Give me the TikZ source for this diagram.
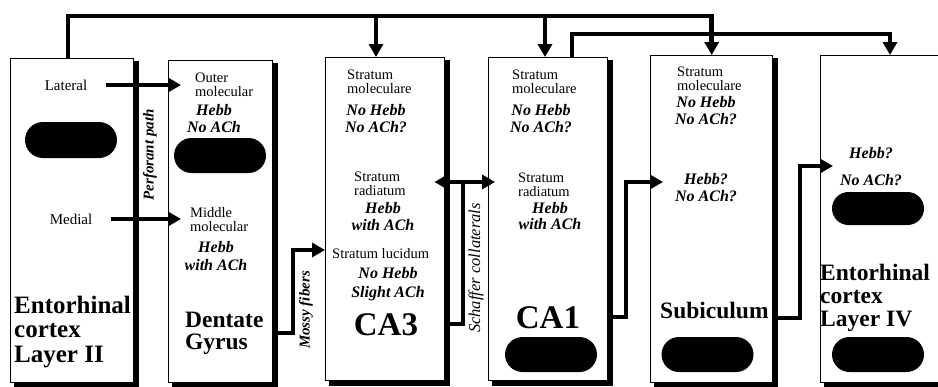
\documentclass[tikz,border=0pt]{standalone}
\usepackage{fontspec}
\setmainfont{Liberation Serif}
\usetikzlibrary{arrows.meta,shapes.misc}

\tikzset{
  panel/.style={draw,line width=1.4pt,anchor=north west,inner sep=0pt},
  blob/.style={rounded rectangle,fill=black,minimum width=92pt,minimum height=35pt,inner sep=0pt},
  fiber/.style={line width=4.5pt},
  into/.style={-{Triangle[length=13pt,width=14pt]}},
  layer/.style={font=\fontsize{14.5}{#1}\selectfont,align=left,anchor=base west,inner sep=0pt},
  layer/.default=14,
  effect/.style={font=\fontsize{16}{#1}\selectfont\bfseries\itshape,align=center,anchor=base,inner sep=0pt},
  effect/.default=17,
  region/.style 2 args={font=\fontsize{#1}{#2}\selectfont\bfseries,align=left,anchor=base west,inner sep=0pt},
  big/.style={font=\fontsize{33}{33}\selectfont\bfseries,anchor=base,inner sep=0pt},
  pathway/.style={font=\fontsize{15}{15}\selectfont\bfseries\itshape,rotate=90,inner sep=0pt}
}

\begin{document}
\begin{tikzpicture}[x=1pt,y=-1pt]
\useasboundingbox (0,0) rectangle (938,386);
\clip (0,0) rectangle (938,386);
\node[panel,minimum width=123pt,minimum height=324pt] (ec2) at (10,58) {};
\node[panel,minimum width=104pt,minimum height=322pt] (dg) at (168,60) {};
\node[panel,minimum width=119pt,minimum height=323pt] (ca3) at (325,57) {};
\node[panel,minimum width=119pt,minimum height=323pt] (ca1) at (488,57) {};
\node[panel,minimum width=122pt,minimum height=327pt] (sub) at (650,55) {};
\node[panel,minimum width=130pt,minimum height=327pt] (ec4) at (820,55) {};
\foreach \b in {ec2,dg,ca3,ca1,sub,ec4}{\draw[line width=4.5pt] ([xshift=2.25pt,yshift=-3pt]\b.north east) -- ([xshift=2.25pt,yshift=-2.25pt]\b.south east) -- ([xshift=4pt,yshift=-2.25pt]\b.south west);}
\foreach \x/\y/\h [count=\i] in {71/140/36,220/155.5/35,551/354.5/35,707.5/354.5/35,878/208.5/33,878/354.5/35}{\node[blob,minimum height=\h pt] (blob\i) at (\x,\y) {};}

\node[font=\fontsize{15}{15}\selectfont,inner sep=0pt] (lat) at (66,85) {Lateral};
\node[font=\fontsize{15}{15}\selectfont,inner sep=0pt] (med) at (71,219) {Medial};
\node[region={25}{24.5}] (ec2name) at (14,362) {Entorhinal\\cortex\\Layer II};

\node[layer] (dgom) at (195,96) {Outer\\molecular};
\node[effect] (dgomfx) at (214,132) {Hebb\\No ACh};
\node[layer] (dgmm) at (190,231) {Middle\\molecular};
\node[effect=18] (dgmmfx) at (216,270) {Hebb\\with ACh};
\node[region={23.5}{22}] (dgname) at (185,349) {Dentate\\Gyrus};

\node[layer] (ca3sm) at (347,93) {Stratum\\moleculare};
\node[effect=16.5] (ca3smfx) at (376,132) {No Hebb\\No ACh?};
\node[layer] (ca3sr) at (354,195) {Stratum\\radiatum};
\node[effect] (ca3srfx) at (383,230) {Hebb\\with ACh};
\node[layer] (ca3sl) at (332,258) {Stratum lucidum};
\node[effect=19] (ca3slfx) at (388,297) {No Hebb\\Slight ACh};
\node[big] (ca3name) at (386,335) {CA3};

\node[layer] (ca1sm) at (512,93) {Stratum\\moleculare};
\node[effect=16.5] (ca1smfx) at (541,132) {No Hebb\\No ACh?};
\node[layer] (ca1sr) at (518,196) {Stratum\\radiatum};
\node[effect=16] (ca1srfx) at (550,229) {Hebb\\with ACh};
\node[big] (ca1name) at (548,328) {CA1};

\node[layer] (subsm) at (677,90) {Stratum\\moleculare};
\node[effect] (subsmfx) at (706,124) {No Hebb\\No ACh?};
\node[effect=16.5] (subfx) at (706,201) {Hebb?\\No ACh?};
\node[region={23.5}{20}] (subname) at (660,318) {Subiculum};

\node[effect=27] (ec4fx) at (871,185) {Hebb?\\No ACh?};
\node[region={23.5}{23}] (ec4name) at (820,326) {Entorhinal\\cortex\\Layer IV};

\node[pathway] (pp) at (150,155) {Perforant path};
\node[pathway] (mf) at (306,310) {Mossy fibers};
\node[pathway,font=\fontsize{16.5}{16.5}\selectfont\itshape] (scl) at (476,268) {Schaffer collaterals};

\coordinate (t0) at (68,16);
\coordinate (d3) at (376,16);
\coordinate (d1) at (545,16);
\coordinate (t1) at (572,34);
\coordinate (d4) at (890,34);
\draw[fiber,into] (t0 |- ec2.north) -- (t0) -- (t0 -| sub.north) -- (sub.north);
\draw[fiber,into] (d3) -- (d3 |- ca3.north);
\draw[fiber,into] (d1) -- (d1 |- ca1.north);
\draw[fiber,into] (t1 |- ca1.north) -- (t1) -- (d4) -- (d4 |- ec4.north);

\draw[fiber,into,shorten <=19pt,shorten >=-13pt] (lat.east) -- (lat -| dg.west);
\draw[fiber,into,shorten <=19pt,shorten >=-13pt] (med.east) -- (med -| dg.west);

\coordinate (mfturn) at (293,250);
\draw[fiber,into] (dg.east |- dgname) -| (mfturn) -- (mfturn -| ca3.west);

\coordinate (scturn) at (463,182);
\draw[fiber] (ca3.east |- ca3name) -| (scturn);
\draw[fiber,{Triangle[length=13pt,width=14pt]}-{Triangle[length=13pt,width=14pt]},shorten <=-11pt,shorten >=-7pt] (scturn -| ca3.east) -- (scturn -| ca1.west);

\coordinate (csturn) at (626,182);
\draw[fiber,into,shorten >=-13pt] (ca1.east |- ca1name) -| (csturn) -- (csturn -| sub.west);

\coordinate (seturn) at (800,166);
\draw[fiber,into,shorten >=-13pt] (sub.east |- subname.base) -| (seturn) -- (seturn -| ec4.west);
\end{tikzpicture}
\end{document}
